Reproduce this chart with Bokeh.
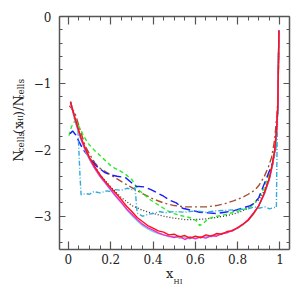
import math
from bokeh.plotting import figure
from bokeh.layouts import row
from bokeh.models import LinearAxis, FixedTicker, CustomJSTickFormatter, Range1d, Label
from bokeh.embed import file_html
from bokeh.resources import INLINE

# ---------------- data ----------------
x_solid = [0.01, 0.02, 0.04, 0.06, 0.08, 0.10, 0.125, 0.15, 0.175, 0.20, 0.225, 0.25, 0.275, 0.30,
           0.325, 0.35, 0.375, 0.40, 0.425, 0.45, 0.475, 0.50, 0.525, 0.55, 0.575, 0.60, 0.625,
           0.65, 0.675, 0.70, 0.725, 0.75, 0.775, 0.80, 0.825, 0.85, 0.875, 0.90, 0.925, 0.95,
           0.965, 0.975, 0.985, 0.99, 0.995]
y_red = [-1.28, -1.40, -1.62, -1.82, -1.98, -2.12, -2.26, -2.38, -2.48, -2.57, -2.66, -2.75, -2.85,
         -2.93, -3.02, -3.08, -3.14, -3.18, -3.22, -3.24, -3.28, -3.27, -3.31, -3.29, -3.33, -3.30,
         -3.32, -3.28, -3.30, -3.26, -3.27, -3.23, -3.22, -3.17, -3.12, -3.06, -2.96, -2.84, -2.66,
         -2.42, -2.20, -2.00, -1.65, -1.30, -0.21]
y_magenta = [-1.28, -1.41, -1.64, -1.84, -2.00, -2.14, -2.28, -2.40, -2.50, -2.60, -2.70, -2.79,
             -2.89, -2.97, -3.05, -3.12, -3.17, -3.21, -3.25, -3.28, -3.30, -3.32, -3.30, -3.35,
             -3.31, -3.34, -3.31, -3.33, -3.29, -3.30, -3.26, -3.25, -3.21, -3.18, -3.12, -3.05,
             -2.95, -2.84, -2.67, -2.44, -2.22, -2.02, -1.68, -1.32, -0.21]
y_cyan = [-1.30, -1.43, -1.66, -1.86, -2.02, -2.15, -2.29, -2.41, -2.51, -2.61, -2.71, -2.80, -2.90,
          -2.99, -3.07, -3.14, -3.19, -3.23, -3.26, -3.28, -3.31, -3.30, -3.33, -3.32, -3.34, -3.31,
          -3.33, -3.30, -3.31, -3.28, -3.27, -3.24, -3.22, -3.18, -3.13, -3.06, -2.97, -2.85, -2.68,
          -2.45, -2.24, -2.04, -1.70, -1.34, -0.21]

x_dot = [0.01, 0.03, 0.06, 0.10, 0.15, 0.20, 0.25, 0.30, 0.35, 0.40, 0.45, 0.50, 0.55, 0.60, 0.65,
         0.70, 0.75, 0.80, 0.85, 0.90, 0.93, 0.95, 0.97, 0.98, 0.99, 0.995]
y_dot = [-1.30, -1.55, -1.85, -2.12, -2.38, -2.56, -2.72, -2.84, -2.91, -2.96, -3.00, -3.03, -3.05,
         -3.05, -3.04, -3.02, -2.99, -2.95, -2.88, -2.75, -2.60, -2.42, -2.12, -1.90, -1.40, -0.21]

x_ltblue = [0.01, 0.03, 0.045, 0.055, 0.06, 0.08, 0.10, 0.12, 0.15, 0.18, 0.20, 0.22, 0.25, 0.28,
            0.30, 0.315, 0.325, 0.35, 0.38, 0.40, 0.43, 0.46, 0.50, 0.55, 0.60, 0.65, 0.70, 0.75,
            0.80, 0.85, 0.88, 0.90, 0.93, 0.95, 0.97, 0.983, 0.986, 0.995]
y_ltblue = [-1.28, -1.50, -1.68, -2.40, -2.68, -2.66, -2.67, -2.63, -2.65, -2.62, -2.63, -2.60,
            -2.61, -2.58, -2.60, -2.57, -2.95, -3.00, -2.97, -2.96, -2.93, -2.95, -2.93, -2.94,
            -2.92, -2.94, -2.92, -2.91, -2.90, -2.89, -2.86, -2.88, -2.86, -2.89, -2.87, -2.87,
            -2.00, -0.21]

x_blue = [0.008, 0.02, 0.035, 0.05, 0.07, 0.10, 0.13, 0.17, 0.20, 0.23, 0.27, 0.30, 0.32, 0.36,
          0.39, 0.42, 0.45, 0.48, 0.51, 0.54, 0.58, 0.62, 0.66, 0.70, 0.74, 0.78, 0.82, 0.86, 0.88,
          0.90, 0.925, 0.945, 0.965, 0.98, 0.99, 0.995]
y_blue = [-1.76, -1.72, -1.78, -1.88, -2.00, -2.12, -2.24, -2.34, -2.38, -2.40, -2.42, -2.50, -2.55,
          -2.56, -2.60, -2.65, -2.70, -2.76, -2.80, -2.88, -2.91, -2.94, -2.95, -2.96, -2.94, -2.92,
          -2.88, -2.84, -2.80, -2.72, -2.52, -2.36, -2.20, -1.96, -1.40, -0.21]

x_green = [0.003, 0.014, 0.03, 0.05, 0.07, 0.094, 0.12, 0.14, 0.17, 0.20, 0.22, 0.25, 0.27, 0.30,
           0.33, 0.36, 0.39, 0.42, 0.45, 0.47, 0.50, 0.53, 0.56, 0.59, 0.61, 0.62, 0.64, 0.66, 0.69,
           0.72, 0.75, 0.78, 0.82, 0.86, 0.88, 0.90, 0.925, 0.945, 0.965, 0.98, 0.99, 0.995]
y_green = [-1.79, -1.66, -1.57, -1.65, -1.78, -1.91, -2.00, -2.06, -2.15, -2.24, -2.28, -2.33,
           -2.37, -2.45, -2.60, -2.68, -2.76, -2.82, -2.88, -2.92, -2.96, -2.99, -3.01, -3.04,
           -3.08, -3.14, -3.10, -3.04, -3.01, -2.99, -2.97, -2.94, -2.91, -2.86, -2.80, -2.72,
           -2.58, -2.40, -2.24, -2.00, -1.40, -0.21]

x_brown = [0.005, 0.03, 0.06, 0.08, 0.108, 0.125, 0.15, 0.19, 0.23, 0.266, 0.30, 0.35, 0.40, 0.45,
           0.50, 0.55, 0.60, 0.65, 0.70, 0.74, 0.78, 0.82, 0.85, 0.88, 0.90, 0.925, 0.945, 0.96,
           0.975, 0.99, 0.995]
y_brown = [-1.34, -1.44, -1.75, -1.95, -2.11, -2.20, -2.28, -2.36, -2.44, -2.51, -2.57, -2.66,
           -2.74, -2.80, -2.84, -2.86, -2.86, -2.86, -2.84, -2.81, -2.77, -2.72, -2.67, -2.61,
           -2.54, -2.41, -2.26, -2.12, -1.85, -1.30, -0.21]

x_ticks = [0, 0.2, 0.4, 0.6, 0.8, 1.0]
y_ticks = [-3, -2, -1, 0]

# axis title pieces
ytitle_pieces = ["N", "cells", "(x", "HI", ")/N", "cells"]
xtitle_main = ["x"]
xtitle_sub = ["HI"]

# ---------------- geometry ----------------
TOTAL = 297
YT_W = 30                                   # width of the y-title strip
X0, X1 = -0.042, 1.045
Y0, Y1 = -3.5, 0.0
FL, FR, FT, FB = 57.0, 289.0, 16.0, 249.0   # frame edges on the page (px)

AX = "#555555"
TXT = "#222222"
FONT = "DejaVu Serif"

p = figure(width=TOTAL - YT_W, height=TOTAL, x_range=Range1d(X0, X1), y_range=Range1d(Y0, Y1),
           output_backend="svg", toolbar_location=None,
           min_border_left=int(FL) - YT_W, min_border_right=8, min_border_top=int(FT),
           min_border_bottom=48)
p.xgrid.visible = False
p.ygrid.visible = False
p.outline_line_color = None
p.background_fill_color = "white"
p.border_fill_color = "white"

def px2x(px):
    return X0 + (px - FL) / (FR - FL) * (X1 - X0)

xminor = [round(0.05 * i, 2) for i in range(0, 21)]
yminor = [round(-0.2 * i, 1) for i in range(0, 18)]
xt = FixedTicker(ticks=x_ticks, minor_ticks=xminor)
yt = FixedTicker(ticks=y_ticks, minor_ticks=yminor)
xfmt = CustomJSTickFormatter(code="if (Math.abs(tick) < 1e-9) return '0'; if (Math.abs(tick-1) < 1e-9) return '1'; return tick.toFixed(1);")
yfmt = CustomJSTickFormatter(code="if (Math.abs(tick) < 1e-9) return '0'; return '\u2212' + Math.abs(tick).toFixed(0);")

def style(ax, major_in, minor_in, show_labels, standoff):
    ax.axis_line_color = AX
    ax.axis_line_width = 1.5
    ax.major_tick_line_color = AX
    ax.minor_tick_line_color = AX
    ax.major_tick_line_width = 1.2
    ax.minor_tick_line_width = 1.0
    ax.major_tick_in = major_in
    ax.major_tick_out = 0
    ax.minor_tick_in = minor_in
    ax.minor_tick_out = 0
    ax.major_label_standoff = standoff
    ax.major_label_text_font = FONT
    ax.major_label_text_color = TXT
    if show_labels:
        ax.major_label_text_font_size = "12px"
    else:
        ax.major_label_text_font_size = "0px"
        ax.major_label_text_alpha = 0

bx = p.xaxis[0]
bx.ticker = xt
bx.formatter = xfmt
style(bx, 8, 4, True, 4)
ly = p.yaxis[0]
ly.ticker = yt
ly.formatter = yfmt
style(ly, 6, 3, True, 8)

top = LinearAxis(ticker=xt, formatter=xfmt)
style(top, 8, 4, False, 0)
p.add_layout(top, "above")
right = LinearAxis(ticker=yt, formatter=yfmt)
style(right, 6, 3, False, 0)
p.add_layout(right, "right")

# ---------------- lines ----------------
W = 1.4
p.line(x_dot, y_dot, line_color="#333333", line_width=1.3, line_dash="1 2")
p.line(x_brown, y_brown, line_color="#a0522d", line_width=W, line_dash="7 3 2 3")
p.line(x_green, y_green, line_color="#22ee22", line_width=W, line_dash="4 3")
p.line(x_blue, y_blue, line_color="#1a1aff", line_width=W, line_dash="9 4")
p.line(x_ltblue, y_ltblue, line_color="#33aadd", line_width=W, line_dash="5 2 1 2")
p.line(x_solid, y_cyan, line_color="#66ddee", line_width=W)
p.line(x_solid, y_magenta, line_color="#ff22cc", line_width=W)
p.line(x_solid, y_red, line_color="#ff1111", line_width=W)

# ---------------- x title: text-only axes below ----------------
def title_axis(side, positions, labels, size, standoff):
    ax = LinearAxis(ticker=FixedTicker(ticks=positions, minor_ticks=[]),
                    formatter=CustomJSTickFormatter(args=dict(labels=labels), code="return labels[index];"))
    ax.axis_line_color = None
    ax.major_tick_line_color = None
    ax.minor_tick_line_color = None
    ax.major_tick_in = 0
    ax.major_tick_out = 0
    ax.minor_tick_in = 0
    ax.minor_tick_out = 0
    ax.major_label_standoff = standoff
    ax.major_label_text_font = FONT
    ax.major_label_text_font_size = f"{size}px"
    ax.major_label_text_color = TXT
    ax.major_label_orientation = "horizontal"
    p.add_layout(ax, side)
    return ax

title_axis("below", [px2x(168.0)], xtitle_main, 13, -1)
title_axis("below", [px2x(176.5)], xtitle_sub, 7, -6)

# ---------------- y title: narrow strip figure (no title panel), rotated text ----------------
yf = figure(width=YT_W, height=TOTAL, x_range=Range1d(0, YT_W), y_range=Range1d(0, TOTAL),
            title=None, output_backend="svg", toolbar_location=None,
            x_axis_type=None, y_axis_type=None,
            min_border_left=0, min_border_right=0, min_border_top=0, min_border_bottom=0)
yf.xgrid.visible = False
yf.ygrid.visible = False
yf.outline_line_color = None
yf.background_fill_color = "white"
yf.border_fill_color = "white"

# (font size, baseline x on page, start y on page) for each piece, reading bottom to top
y_layout = [(13, 17.5, 185.0), (9, 20.5, 173.5), (13, 17.5, 150.0),
            (7, 20.5, 137.0), (13, 17.5, 126.7), (9, 20.5, 106.0)]
for text, (size, bxp, syp) in zip(ytitle_pieces, y_layout):
    yf.add_layout(Label(x=bxp, y=TOTAL - syp, text=text, text_font=FONT,
                        text_font_size=f"{size}px", text_color=TXT, angle=math.pi / 2,
                        text_align="left", text_baseline="alphabetic"))

layout = row(yf, p, spacing=0)
open("out.html", "w").write(file_html(layout, INLINE))
